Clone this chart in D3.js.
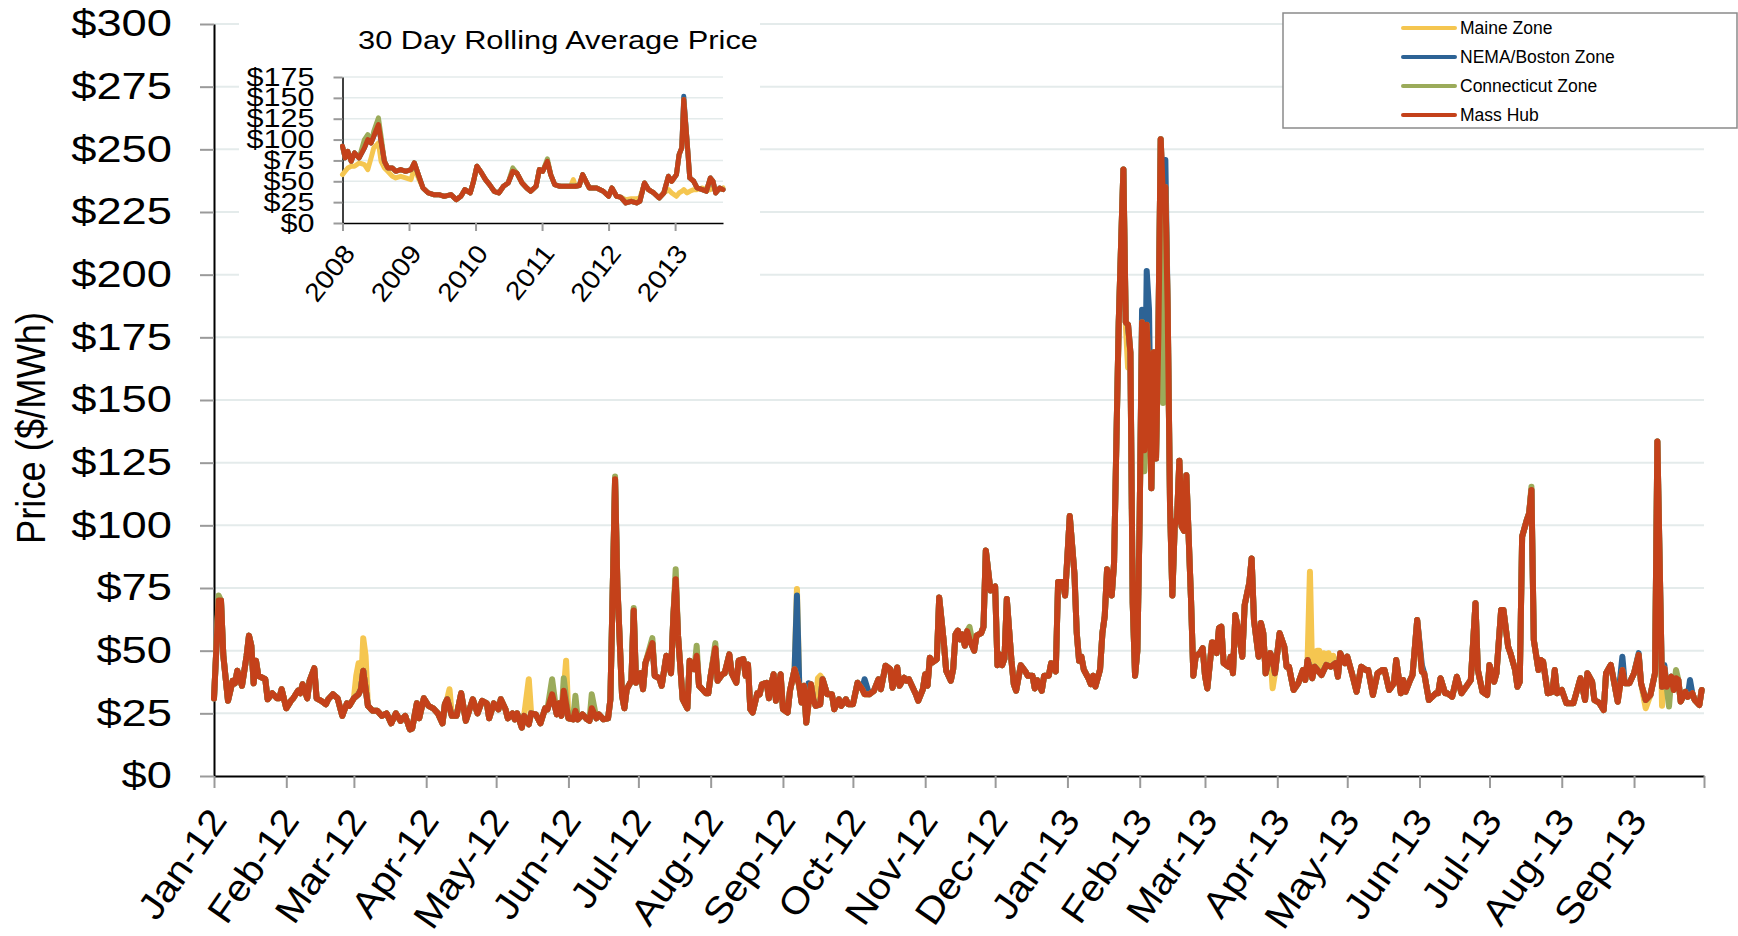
<!DOCTYPE html>
<html>
<head>
<meta charset="utf-8">
<script src="https://cdn.jsdelivr.net/npm/d3@7"></script>
<style>
  body { margin: 0; background: #fff; }
  svg { display: block; font-family: "Liberation Sans", Arial, sans-serif; }
</style>
</head>
<body>
<svg id="chart" width="1738" height="936"></svg>
<script>
// ---- data (day offset from 1 Jan 2012, $/MWh) ----
const massHub = [
  [0,31],[2,70],[3,70],[4,48],[6,30],[7,34],[8,38],[9,37],[10,42],[12,36],[14,48],[15,56],[16,52],[17,37],[18,46],[19,40],
  [22,38.6],[23,30.6],[25,33],[27,31],[28,31],[29,34.6],[31,27],[33,30],[34,31],[36,34],[37,33],[38,36.6],[40,31],[41,38],
  [43,43],[44,31],[46,30],[48,28.6],[49,30.6],[51,32.6],[53,31],[55,24],[57,29],[58,28],[60,31],[62,32.6],[63,34.6],[64,42],
  [66,28],[68,26],[70,26],[72,24],[74,25],[76,21],[78,25],[80,22],[82,24],[84,18.6],[85,19],[87,29],[88,23],[90,31],[92,28],
  [94,27],[96,25],[98,21],[99,28.6],[100,30.6],[102,24],[104,24],[106,33],[108,22],[111,30.6],[113,25],[115,30],[117,29],
  [118,23],[120,29],[122,26.6],[123,30.6],[125,26.6],[126,23],[128,25],[129,22.6],[130,25],[132,19.3],[133,24],[135,20.6],
  [136,25],[138,24.6],[140,21],[142,27],[143,26.6],[145,32.6],[147,24.6],[148,29],[149,24],[150,34],[152,23],[154,22.6],
  [155,26],[156,22.6],[158,24.6],[160,22.6],[161,22],[162,27],[164,23],[165,24.6],[167,22.6],[169,23],[170,30.6],[172,118.4],
  [173,76],[175,32],[176,27],[177,34.6],[179,38],[180,66],[181,37.2],[183,41],[184,34.6],[185,45],[188,53],[189,40],[191,39],
  [192,36],[194,48],[196,41],[197,63.8],[198,78.5],[199,56],[201,30.6],[203,27],[204,46],[206,42.6],[207,48],[208,36],
  [211,33],[212,33],[213,40],[215,51],[216,38],[218,40.6],[219,41],[221,48.5],[222,41],[224,37.2],[225,46],[227,46.6],
  [228,40],[229,44.5],[230,26.6],[231,25.3],[233,33],[234,32.6],[235,36.6],[237,37.2],[238,31],[239,36.6],[240,40.6],
  [241,30],[243,40.6],[244,26.6],[246,25.3],[247,34],[249,42.6],[251,36],[252,29.3],[253,36],[254,21.3],[256,36.6],
  [257,30.6],[258,28],[260,28.6],[261,38.6],[263,32.6],[265,32.6],[266,26.6],[268,30.6],[269,28],[271,30.6],[272,28.6],
  [274,28.6],[276,37.2],[278,34.6],[279,32.6],[281,32.6],[283,34],[285,38.6],[286,34.6],[288,44],[290,42.6],[291,35.2],
  [293,43.3],[294,36],[296,39.2],[297,38],[298,38.6],[301,32.6],[302,30],[304,34.6],[305,40.6],[306,36],[307,47.2],
  [308,45.3],[310,46.6],[311,71.2],[313,53.2],[314,42],[316,38],[317,42.6],[318,56.5],[319,58],[320,54.5],[321,56.5],
  [322,52],[323,57.8],[324,54.4],[326,50],[327,56],[329,57],[330,59.5],[331,90],[333,74],[334,74.8],[335,75.6],[336,44.2],
  [337,48.5],[338,44.2],[339,46.8],[340,70.6],[342,46],[343,36.6],[344,34],[346,44.2],[348,41.7],[349,40],[351,40],
  [352,34.9],[353,38.2],[355,34],[356,40],[358,40],[359,45],[361,41.7],[362,77.4],[364,77.4],[365,72],[367,103.7],
  [369,80.8],[370,57],[371,46],[372,47.6],[373,42.5],[375,39],[376,36.6],[377,40],[378,35.7],[380,42.5],[381,57],
  [382,63.8],[383,82.5],[384,78],[385,72],[386,85],[387,133.5],[388,181],[390,242],[391,181],[392,180],[393,169],
  [394,69],[395,40],[396,50],[397,104.6],[398,181],[399,130],[400,180],[401,155.6],[402,114.8],[403,169],[404,126.7],
  [405,176],[406,254],[407,230],[408,235],[409,186],[410,108],[411,72],[412,99.5],[413,103],[414,125.8],[415,99.5],
  [416,97.8],[417,120],[419,70.6],[420,40],[421,47.6],[423,49.3],[424,51],[425,40],[426,34.9],[428,53.3],[429,53],
  [430,49],[431,59],[432,59.6],[433,45],[435,43.6],[436,47.6],[437,41],[438,64.2],[439,59.6],[441,47.6],[442,68.2],
  [444,77],[445,86.8],[446,62.2],[448,47.6],[449,61],[450,57],[451,41],[453,49],[454,47],[455,41],[457,57],[459,51.6],
  [460,43.6],[461,43.6],[463,34.3],[465,37],[467,42.3],[468,38.3],[469,46.3],[471,39],[472,43.6],[475,40.3],[477,44.3],
  [479,43.6],[481,45],[482,39.6],[483,49],[485,45],[486,47.6],[488,41],[490,33.6],[492,43.6],[494,42.3],[495,42.3],
  [497,32.3],[499,41],[501,42.3],[502,42.3],[504,34.3],[506,37],[507,46.3],[509,33],[510,38.3],[511,33.6],[513,38.3],
  [514,40.3],[516,62.2],[518,41.6],[519,41],[521,30.3],[524,33],[525,33],[526,39],[528,33],[529,33],[531,31.6],[533,39.6],
  [535,33],[537,35.6],[539,38.3],[541,68.9],[542,42.3],[544,33.6],[546,32.3],[547,44.3],[549,37.6],[550,41],[552,66.2],
  [553,66.2],[555,51.6],[556,49],[558,42.3],[559,35.6],[560,37.6],[561,95.5],[563,102.1],[564,104.8],[565,114.1],
  [566,54.3],[568,42.3],[569,46.3],[570,45.6],[572,33],[574,33.6],[575,42.3],[576,33],[578,34.3],[580,29],[582,29],
  [583,29],[585,35.6],[586,39],[588,30.3],[589,41],[591,37.6],[592,30.3],[594,29.3],[596,26.3],[597,41],[599,44.3],
  [600,39.6],[602,29.6],[604,42.3],[605,37],[607,37],[608,39],[609,41],[611,48.3],[612,37],[614,30.3],[616,32.3],
  [618,41],[619,133.4],[621,35.6],[622,43],[623,35.6],[625,39.6],[626,34.3],[627,39],[628,38.3],[629,29.7],[631,33.6],
  [632,31.6],[634,33],[635,30.3],[637,28.3],[638,34.3]
];
// days where the other zones part from Mass Hub
const maineDiff = [[61,40],[62,45],[64,55],[65,48],[101,34.6],[135,38.6],[151,46],[250,74.6],[259,39],[260,40],
  [392,163],[454,35],[470,81.5],[473,50],[474,50],[476,49],[478,49],[480,48],[614,27],[621,28]];
const nemaDiff = [[250,72],[255,37],[279,38.6],[398,186],[400,201.5],[401,186],[408,245.7],[518,44.3],
  [604,47.6],[611,49],[622,44.3],[633,38.3]];
const ctDiff = [[2,72],[145,38.6],[150,39],[155,32],[162,32.6],[172,119.5],[180,67],[188,55],[198,82.5],[207,52],
  [215,53],[324,59.5],[399,121.6],[407,148.8],[565,115.4],[624,27.7],[627,42.3]];

// inset: 30 day rolling average (year, $/MWh)
const insetMassHub = [
  [2008.0,92],[2008.04,78],[2008.08,86],[2008.13,74],[2008.18,84],[2008.25,78],[2008.33,90],[2008.38,100],[2008.43,96],
  [2008.47,104],[2008.54,118],[2008.58,98],[2008.63,74],[2008.68,66],[2008.75,66],[2008.8,62],[2008.875,64],[2008.95,62],
  [2009.03,64],[2009.08,72],[2009.14,58],[2009.21,42],[2009.29,36],[2009.37,34],[2009.45,34],[2009.53,32],[2009.63,34],
  [2009.71,28],[2009.78,32],[2009.84,40],[2009.92,36],[2009.97,50],[2010.02,68],[2010.09,60],[2010.15,52],[2010.21,46],
  [2010.28,38],[2010.35,36],[2010.42,44],[2010.49,48],[2010.56,62],[2010.62,60],[2010.7,48],[2010.77,42],[2010.83,38],
  [2010.91,44],[2010.96,64],[2011.01,62],[2011.08,74],[2011.13,58],[2011.19,46],[2011.27,44],[2011.35,44],[2011.43,44],
  [2011.5,44],[2011.56,45],[2011.61,58],[2011.66,50],[2011.71,42],[2011.82,42],[2011.92,38],[2012.0,32],[2012.05,42],
  [2012.12,32],[2012.18,31],[2012.26,24],[2012.34,26],[2012.42,24],[2012.47,26],[2012.54,48],[2012.6,40],[2012.68,36],
  [2012.76,30],[2012.83,36],[2012.9,56],[2012.95,50],[2013.02,58],[2013.06,82],[2013.1,90],[2013.13,148],[2013.18,98],
  [2013.22,54],[2013.28,50],[2013.33,42],[2013.41,40],[2013.47,38],[2013.53,54],[2013.57,50],[2013.61,36],[2013.67,42],
  [2013.72,40]
];
const insetMaineDiff = [[2008.0,58],[2008.04,62],[2008.08,66],[2008.13,68],[2008.18,68],[2008.25,72],[2008.33,70],
  [2008.38,64],[2008.43,78],[2008.47,90],[2008.54,96],[2008.58,74],[2008.63,66],[2008.68,62],[2008.75,56],[2008.8,54],
  [2008.875,56],[2008.95,54],[2009.03,52],[2009.08,66],[2009.14,54],[2011.47,52],[2012.26,28],[2012.34,29],[2012.42,29],
  [2012.47,30],[2012.9,40],[2012.95,36],[2013.02,32],[2013.06,36],[2013.1,38],[2013.13,40],[2013.18,36],[2013.22,38],
  [2013.28,40],[2013.33,40],[2013.41,42],[2013.47,40],[2013.53,40],[2013.57,42],[2013.61,40],[2013.67,40],[2013.72,42]];
const insetNemaDiff = [[2013.13,152]];
const insetCtDiff = [[2008.33,100],[2008.38,106],[2008.47,110],[2008.54,126],[2008.58,104],[2010.56,66],[2011.08,77]];

const priceTicks = [0, 25, 50, 75, 100, 125, 150, 175, 200, 225, 250, 275, 300];
const insetTicks = [0, 25, 50, 75, 100, 125, 150, 175];
const insetYears = [2008, 2009, 2010, 2011, 2012, 2013];
const zoneNames = ["Maine Zone", "NEMA/Boston Zone", "Connecticut Zone", "Mass Hub"];
const zoneColors = ["#f5c650", "#2d6395", "#9bab5a", "#c4411a"];

// merge the differing points into the Mass Hub curve
function withDiff(base, diff) {
  const m = new Map(base);
  diff.forEach(([k, v]) => m.set(k, v));
  return Array.from(m).sort((a, b) => a[0] - b[0]);
}

const svg = d3.select("#chart");
const start = new Date(2012, 0, 1);
const end = new Date(2013, 9, 1);
const dayDate = d => d3.timeDay.offset(start, d);

const x = d3.scaleTime().domain([start, end]).range([214, 1704]);
const y = d3.scaleLinear().domain([0, 300]).range([776, 24]);

// gridlines
svg.append("g").selectAll("line")
  .data(priceTicks.filter(d => d > 0))
  .enter().append("line")
  .attr("x1", 214).attr("x2", 1704)
  .attr("y1", d => y(d)).attr("y2", d => y(d))
  .attr("stroke", "#e4ebeb").attr("stroke-width", 2);

// axes
const yAxis = svg.append("g")
  .attr("transform", "translate(214,0)")
  .call(d3.axisLeft(y).tickValues(priceTicks).tickSize(14).tickSizeOuter(0).tickPadding(28).tickFormat(d => "$" + d));
yAxis.select(".domain").attr("stroke", "#000").attr("stroke-width", 2);
yAxis.selectAll(".tick line").attr("stroke", "#9a9a9a").attr("stroke-width", 2);
yAxis.selectAll(".tick text")
  .attr("font-size", 37).attr("fill", "#000")
  .attr("textLength", d => String("$" + d).length * 25.2)
  .attr("lengthAdjust", "spacingAndGlyphs");

const fmt = d3.timeFormat("%b-%y");
const xAxis = svg.append("g")
  .attr("transform", "translate(0,776)")
  .call(d3.axisBottom(x).tickValues(d3.timeMonth.range(start, d3.timeDay.offset(end, 1)))
    .tickSize(12).tickSizeOuter(0).tickFormat(d => d >= end ? "" : fmt(d)));
xAxis.select(".domain").attr("stroke", "#000").attr("stroke-width", 2);
xAxis.selectAll(".tick line").attr("stroke", "#9a9a9a").attr("stroke-width", 2);
xAxis.selectAll(".tick text")
  .attr("font-size", 37).attr("fill", "#000")
  .attr("text-anchor", "end")
  .attr("y", 0).attr("dy", "0.35em")
  .attr("transform", "translate(3,37) rotate(-55) scale(1.1,1)");

svg.append("text")
  .attr("transform", "translate(45,428) rotate(-90)")
  .attr("text-anchor", "middle")
  .attr("font-size", 41)
  .attr("textLength", 232).attr("lengthAdjust", "spacingAndGlyphs")
  .text("Price ($/MWh)");

// series lines
const mainSeries = [
  withDiff(massHub, maineDiff),
  withDiff(massHub, nemaDiff),
  withDiff(massHub, ctDiff),
  massHub
];
const line = d3.line().x(d => x(dayDate(d[0]))).y(d => y(d[1]));
svg.append("g").selectAll("path")
  .data(mainSeries)
  .enter().append("path")
  .attr("d", line)
  .attr("fill", "none")
  .attr("stroke", (d, i) => zoneColors[i])
  .attr("stroke-width", 6)
  .attr("stroke-linejoin", "round")
  .attr("stroke-linecap", "round");

// ---- inset ----
const inset = svg.append("g");
inset.append("rect").attr("x", 239).attr("y", 16).attr("width", 521).attr("height", 284).attr("fill", "#fff");

const ix = d3.scaleLinear().domain([2008, 2013.72]).range([342.5, 723]);
const iy = d3.scaleLinear().domain([0, 175]).range([223, 77]);

inset.append("g").selectAll("line")
  .data(insetTicks.filter(d => d > 0))
  .enter().append("line")
  .attr("x1", 342.5).attr("x2", 723)
  .attr("y1", d => iy(d)).attr("y2", d => iy(d))
  .attr("stroke", "#e4ebeb").attr("stroke-width", 1.5);

const iyAxis = inset.append("g")
  .attr("transform", "translate(342.5,0)")
  .call(d3.axisLeft(iy).tickValues(insetTicks).tickSize(9).tickSizeOuter(0).tickPadding(19).tickFormat(d => "$" + d));
iyAxis.select(".domain").attr("stroke", "#000").attr("stroke-width", 1.5);
iyAxis.selectAll(".tick line").attr("stroke", "#9a9a9a").attr("stroke-width", 2);
iyAxis.selectAll(".tick text")
  .attr("font-size", 25).attr("fill", "#000")
  .attr("textLength", d => String("$" + d).length * 17)
  .attr("lengthAdjust", "spacingAndGlyphs");

const ixAxis = inset.append("g")
  .attr("transform", "translate(0,223)")
  .call(d3.axisBottom(ix).tickValues(insetYears).tickSize(8).tickSizeOuter(0).tickFormat(d3.format("d")));
ixAxis.select(".domain").attr("stroke", "#000").attr("stroke-width", 1.5);
ixAxis.selectAll(".tick line").attr("stroke", "#9a9a9a").attr("stroke-width", 2);
ixAxis.selectAll(".tick text")
  .attr("font-size", 26).attr("fill", "#000")
  .attr("text-anchor", "end")
  .attr("y", 0).attr("dy", "0.35em")
  .attr("transform", "translate(6,25) rotate(-52) scale(1.1,1)");

inset.append("text")
  .attr("x", 358).attr("y", 49)
  .attr("font-size", 26)
  .attr("textLength", 400).attr("lengthAdjust", "spacingAndGlyphs")
  .text("30 Day Rolling Average Price");

const insetSeries = [
  withDiff(insetMassHub, insetMaineDiff),
  withDiff(insetMassHub, insetNemaDiff),
  withDiff(insetMassHub, insetCtDiff),
  insetMassHub
];
const iline = d3.line().x(d => ix(d[0])).y(d => iy(d[1]));
inset.append("g").selectAll("path")
  .data(insetSeries)
  .enter().append("path")
  .attr("d", iline)
  .attr("fill", "none")
  .attr("stroke", (d, i) => zoneColors[i])
  .attr("stroke-width", 5)
  .attr("stroke-linejoin", "round")
  .attr("stroke-linecap", "round");

// ---- legend ----
const legend = svg.append("g");
legend.append("rect")
  .attr("x", 1283).attr("y", 13).attr("width", 454).attr("height", 115)
  .attr("fill", "#fff").attr("stroke", "#8a8a8a").attr("stroke-width", 1.5);
const items = legend.selectAll(".item")
  .data(zoneNames)
  .enter().append("g")
  .attr("transform", (d, i) => `translate(0,${28 + i * 29})`);
items.append("line")
  .attr("x1", 1403).attr("x2", 1455)
  .attr("stroke", (d, i) => zoneColors[i])
  .attr("stroke-width", 4).attr("stroke-linecap", "round");
items.append("text")
  .attr("x", 1460).attr("dy", "0.35em")
  .attr("font-size", 17.5)
  .text(d => d);
</script>
</body>
</html>
